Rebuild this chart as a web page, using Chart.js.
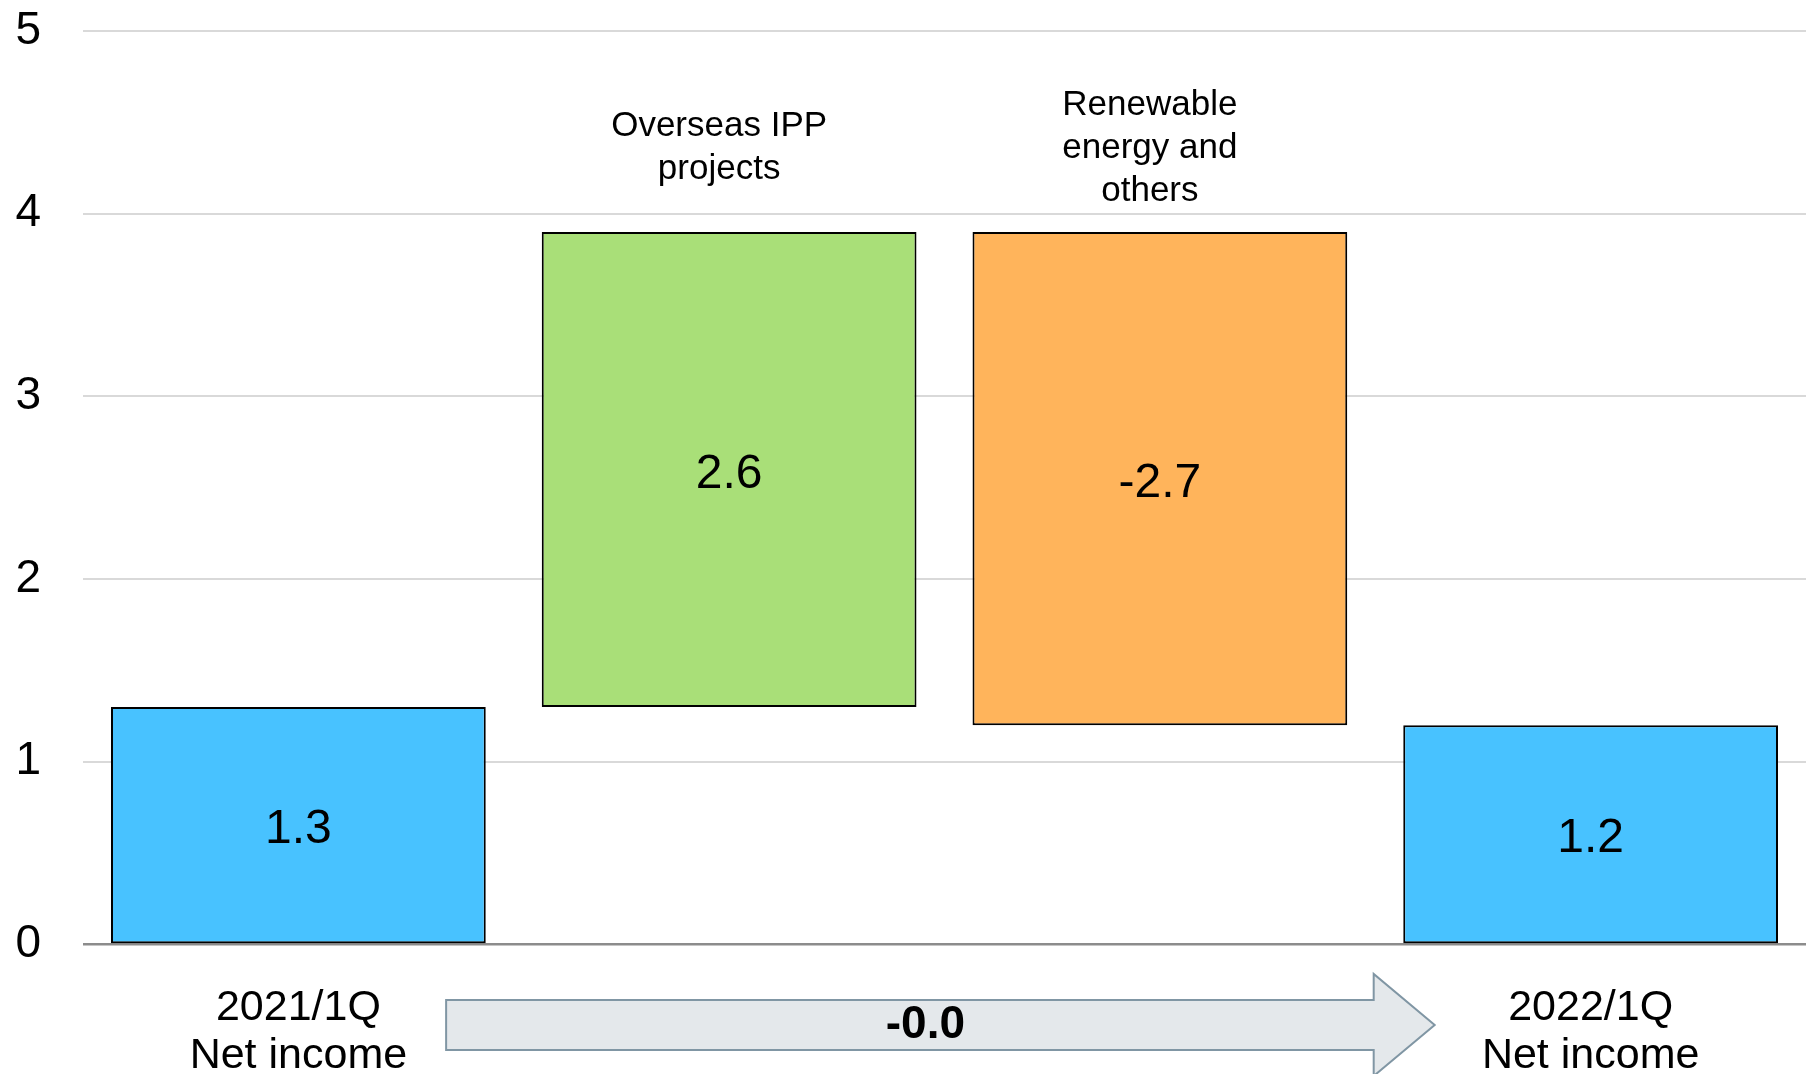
<!DOCTYPE html>
<html>
<head>
<meta charset="utf-8">
<script src="https://cdn.jsdelivr.net/npm/chart.js@4"></script>
<style>
html, body { margin: 0; padding: 0; background: #fff; }
</style>
</head>
<body>
<canvas id="myChart" width="1806" height="1074"></canvas>
<script>
const categories = [['2021/1Q', 'Net income'], '', '', ['2022/1Q', 'Net income']];
const barStarts = [0, 1.3, 1.2, 0];
const barEnds = [1.3, 3.9, 3.9, 1.2];
const valueLabels = ['1.3', '2.6', '-2.7', '1.2'];
const topLabels = [[], ['Overseas IPP', 'projects'], ['Renewable', 'energy and', 'others'], []];
const topLabelLevel = 4.36;
const changeLabel = '-0.0';
const barColors = ['#48C2FF', '#A9DF78', '#FFB45B', '#48C2FF'];

const FONT = '"Liberation Sans", Arial, sans-serif';

const overlay = {
	id: 'overlay',
	afterDatasetsDraw(chart) {
		const c = chart.ctx;
		const meta = chart.getDatasetMeta(0);
		const y = chart.scales.y;
		c.save();
		c.fillStyle = '#000';
		c.textAlign = 'center';
		c.textBaseline = 'middle';
		meta.data.forEach((bar, i) => {
			c.font = '48px ' + FONT;
			c.fillText(valueLabels[i], bar.x, (bar.y + bar.base) / 2 + 5);

			const lines = topLabels[i];
			if (lines.length) {
				c.font = '35px ' + FONT;
				const mid = y.getPixelForValue(topLabelLevel);
				const lh = 43;
				lines.forEach((t, k) => {
					c.fillText(t, bar.x - 10, mid + (k - (lines.length - 1) / 2) * lh);
				});
			}
		});
		c.restore();
	},
	afterDraw(chart) {
		const c = chart.ctx;
		const x = chart.scales.x;
		const y = chart.scales.y;
		const step = x.getPixelForValue(1) - x.getPixelForValue(0);
		const left = x.getPixelForValue(0) + step * 0.343;
		const tip = x.getPixelForValue(categories.length - 1) - step * 0.362;
		const headBase = tip - 61;
		const cy = y.getPixelForValue(0) + 80.5;
		const sh = 25, hh = 51;

		c.save();
		c.beginPath();
		c.moveTo(left, cy - sh);
		c.lineTo(headBase, cy - sh);
		c.lineTo(headBase, cy - hh);
		c.lineTo(tip, cy);
		c.lineTo(headBase, cy + hh);
		c.lineTo(headBase, cy + sh);
		c.lineTo(left, cy + sh);
		c.closePath();
		c.fillStyle = '#E4E8EB';
		c.fill();
		c.lineWidth = 2;
		c.strokeStyle = '#8096A4';
		c.stroke();

		c.fillStyle = '#000';
		c.font = 'bold 46px ' + FONT;
		c.textAlign = 'center';
		c.textBaseline = 'middle';
		c.fillText(changeLabel, (left + tip) / 2 - 15, cy);
		c.restore();
	}
};

const ctx = document.getElementById('myChart');
const plot = new Chart(ctx, {
	type: 'bar',
	data: {
		labels: categories,
		datasets: [{
			data: barStarts.map((s, i) => [s, barEnds[i]]),
			backgroundColor: barColors,
			borderColor: '#000',
			borderWidth: 2,
			borderSkipped: false,
			categoryPercentage: 1,
			barPercentage: 0.87
		}]
	},
	options: {
		responsive: false,
		animation: false,
		layout: { padding: 0 },
		plugins: {
			legend: { display: false },
			tooltip: { enabled: false }
		},
		scales: {
			x: {
				grid: { display: false },
				border: { display: false },
				ticks: {
					color: '#000',
					font: { family: FONT, size: 43, lineHeight: '48px' },
					padding: 32,
					maxRotation: 0,
					autoSkip: false
				},
				afterFit(s) { s.height = 129.5; }
			},
			y: {
				min: 0,
				max: 5,
				ticks: {
					stepSize: 1,
					color: '#000',
					font: { family: FONT, size: 46 },
					padding: 42
				},
				grid: {
					color: c => c.tick.value === 0 ? '#8C8C8C' : '#D9D9D9',
					lineWidth: c => c.tick.value === 0 ? 2.5 : 2,
					drawTicks: false
				},
				border: { display: false },
				afterFit(s) {
					s.width = 83;
					s.paddingTop = 31;
					s.paddingBottom = 0;
				}
			}
		}
	},
	plugins: [overlay]
});
</script>
</body>
</html>
